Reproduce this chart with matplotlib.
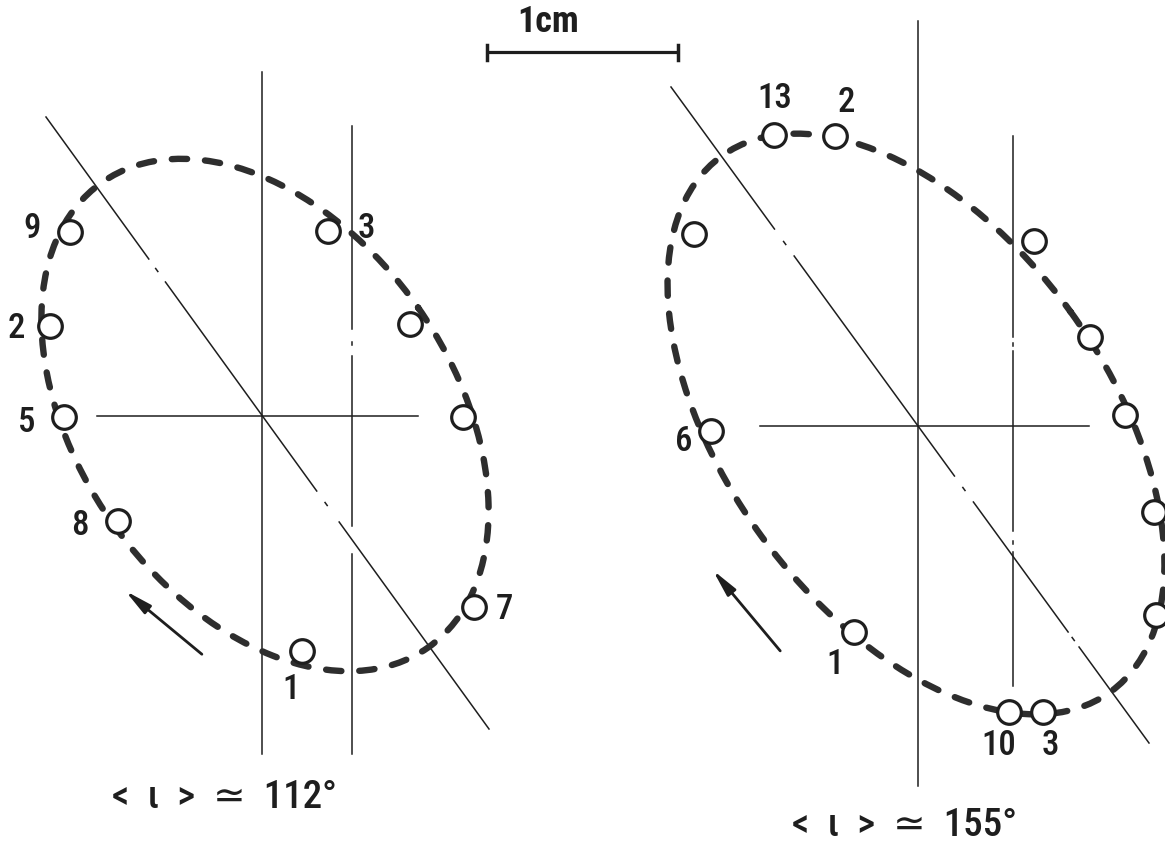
import matplotlib.pyplot as plt
from matplotlib.patches import Ellipse
from matplotlib import font_manager

# --- drawing space is in pixels, origin top-left ---
W, H = 1165, 854

# left panel: observed positions and their epoch labels
left_pts_x = [70, 50, 64, 118, 302, 474, 463, 410, 328]
left_pts_y = [233, 327, 418, 522, 652, 608, 418, 325, 232]
left_lab = ["9", "2", "5", "8", "1", "7", "3"]
left_lab_x = [32, 16, 27, 80, 291, 504, 366]
left_lab_y = [229, 329, 423, 526, 690, 610, 229]

# right panel
right_pts_x = [774, 835, 694, 1034, 1090, 1125, 1154, 1156, 711, 854, 1009, 1043]
right_pts_y = [136, 137, 235, 242, 338, 416, 513, 616, 432, 633, 713, 713]
right_lab = ["13", "2", "6", "1", "10", "3"]
right_lab_x = [775, 846, 684, 835, 999, 1050]
right_lab_y = [99, 102, 442, 665, 746, 746]

# fitted orbits: centre, full axes, tilt (deg)
left_orbit = dict(xy=(265, 416), width=568, height=374, angle=55)
right_orbit = dict(xy=(916, 425), width=662, height=382, angle=54)

# reference lines: (x0, y0, x1, y1, breaks as y-ranges, dots at y)
ref_lines = [
    (262, 73, 262, 755, [], []),
    (352, 127, 352, 755, [(330, 357), (527, 555)], [344]),
    (97, 417, 418, 417, [], []),
    (46, 118, 489, 730, [(260, 283), (492, 523)], [271, 505]),
    (918, 22, 918, 787, [], []),
    (1013, 137, 1013, 687, [(338, 352), (532, 553)], [345, 543]),
    (760, 427, 1089, 427, [], []),
    (671, 88, 1149, 744, [(230, 257), (477, 503), (633, 648)], [244, 490, 640]),
]

# sense of motion arrows (tail -> head)
arrows = [((204, 657), (123, 590)), ((782, 654), (711, 569))]

incl_text = ["<  ι  >  ≃  112°", "<  ι  >  ≃  155°"]
incl_x = [224, 904]
incl_y = [798, 826]

# narrow lettering if the system has it, DejaVu for the odd symbols
fonts = font_manager.fontManager.ttflist
font = "DejaVu Sans"
for name in ("Liberation Sans Narrow", "Roboto Condensed", "Open Sans Condensed"):
    if any(f.name == name for f in fonts):
        font = name
        break
txt = dict(family=[font, "DejaVu Sans"], color="#1e1e1e", fontweight=500)
ink = "#1e1e1e"

fig = plt.figure(figsize=(W / 100, H / 100), dpi=100)
ax = fig.add_axes([0, 0, 1, 1])
ax.set_xlim(0, W)
ax.set_ylim(H, 0)
ax.axis("off")


def x_at(x0, y0, x1, y1, y):
    if y1 == y0:
        return x0
    return x0 + (x1 - x0) * (y - y0) / (y1 - y0)


for x0, y0, x1, y1, breaks, dots in ref_lines:
    if y0 == y1:
        ax.plot([x0, x1], [y0, y1], color=ink, lw=1.1, zorder=1)
        continue
    cuts = [y0]
    for a, b in breaks:
        cuts += [a, b]
    cuts.append(y1)
    for ya, yb in zip(cuts[::2], cuts[1::2]):
        ax.plot([x_at(x0, y0, x1, y1, ya), x_at(x0, y0, x1, y1, yb)], [ya, yb],
                color=ink, lw=1.1, zorder=1)
    for yd in dots:
        ax.plot([x_at(x0, y0, x1, y1, yd - 1.5), x_at(x0, y0, x1, y1, yd + 1.5)],
                [yd - 1.5, yd + 1.5], color=ink, lw=1.1, zorder=1)

for orbit in (left_orbit, right_orbit):
    ax.add_patch(Ellipse(fill=False, edgecolor="#2e2e2e", lw=4.6,
                         linestyle=(0, (2.4, 2.8)), capstyle="round", zorder=2,
                         **orbit))

for px, py in ((left_pts_x, left_pts_y), (right_pts_x, right_pts_y)):
    ax.plot(px, py, "o", ms=17, mfc="white", mec=ink, mew=2.3, zorder=3)

for labs, lx, ly in ((left_lab, left_lab_x, left_lab_y), (right_lab, right_lab_x, right_lab_y)):
    for t, x, y in zip(labs, lx, ly):
        ax.text(x, y, t, ha="center", va="center", fontsize=25, **txt)

for tail, head in arrows:
    ax.annotate("", xy=head, xytext=tail,
                arrowprops=dict(arrowstyle="-|>,head_length=0.8,head_width=0.16",
                                mutation_scale=20, lw=2.0, color=ink))

# 1 cm scale bar
ax.plot([487, 678], [53, 53], color=ink, lw=2.3, solid_capstyle="butt")
for xe in (487, 678):
    ax.plot([xe, xe], [46, 61], color=ink, lw=2.5)
ax.text(548, 22, "1cm", ha="center", va="center", fontsize=26,
        family=[font, "DejaVu Sans"], fontweight="bold", color=ink)

for t, x, y in zip(incl_text, incl_x, incl_y):
    ax.text(x, y, t, ha="center", va="center", fontsize=28, **txt)

fig.savefig("out.png", dpi=100, facecolor="white")
